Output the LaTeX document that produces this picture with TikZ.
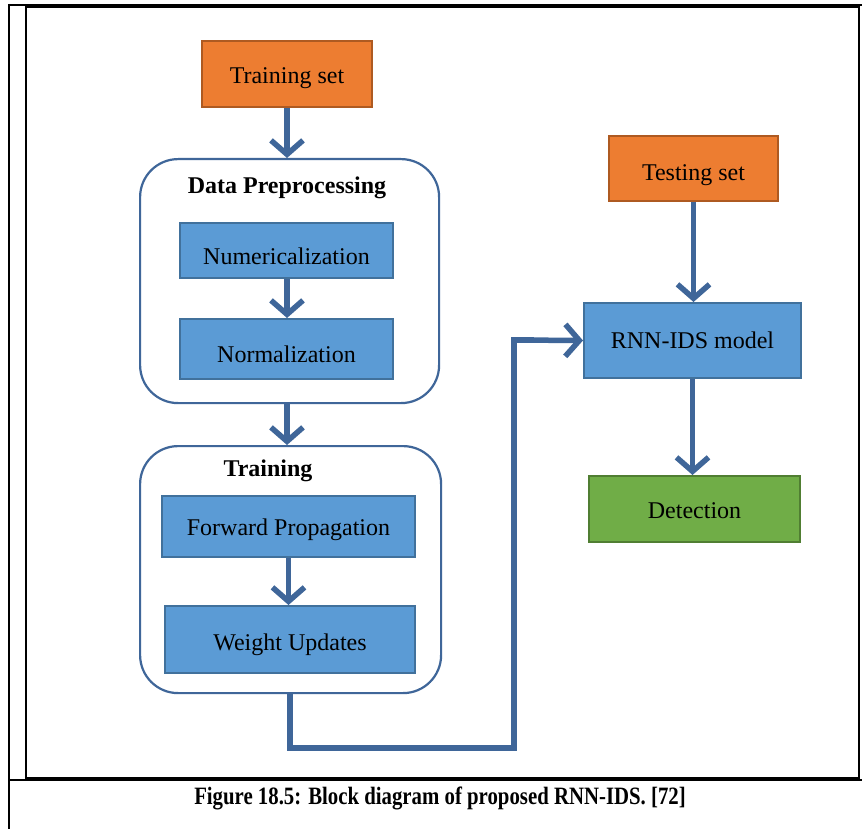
\documentclass[tikz,border=0pt]{standalone}
\usepackage{fontspec}
\setmainfont{Liberation Serif}
\usetikzlibrary{arrows.meta}
\definecolor{orangefill}{HTML}{ED7D31}
\definecolor{orangeline}{HTML}{AE5A21}
\definecolor{bluefill}{HTML}{5B9BD5}
\definecolor{blueline}{HTML}{41719C}
\definecolor{greenfill}{HTML}{70AD47}
\definecolor{greenline}{HTML}{507E32}
\definecolor{flow}{HTML}{3F6699}
\tikzset{
  box/.style={draw, line width=2pt, inner sep=0pt, anchor=north west,
    text height=22pt, text depth=3pt,
    font=\fontsize{24}{28}\selectfont},
  inputbox/.style={box, fill=orangefill, draw=orangeline},
  stagebox/.style={box, fill=bluefill, draw=blueline},
  outputbox/.style={box, fill=greenfill, draw=greenline},
  group/.style={draw=flow, line width=2.2pt, rounded corners=38pt, inner sep=0pt, anchor=north west},
  grouptitle/.style={font=\bfseries\fontsize{24}{28}\selectfont},
  flowarrow/.style={draw=flow, line width=5.5pt,
    -{Straight Barb[length=14pt, width=32pt, line width=5.5pt]}},
  flowline/.style={draw=flow, line width=5.5pt},
  frame/.style={line width=2.2pt, black}
}
\begin{document}
\begin{tikzpicture}[x=1pt, y=-1pt]
\useasboundingbox (0,0) rectangle (862,829);
\fill[white] (0,0) rectangle (862,829);

% page frame lines
\draw[frame] (9,5) -- (862,5);
\draw[frame] (9,4) -- (9,829);
\draw[frame] (26,7) rectangle (859,778);
\draw[frame, line width=2.6pt] (9,780) -- (862,780);

% caption
\node (caption) at (440,798) {\scalebox{1}[1.2]{\bfseries\fontsize{20.8}{24}\selectfont Figure 18.5: Block diagram of proposed RNN-IDS. [72]}};

% left column: training pipeline
\node[inputbox, minimum width=170pt, minimum height=66pt] (train) at (201,40) {Training set};

\node[group, minimum width=299pt, minimum height=244pt] (prep) at (139,158) {};
\node[grouptitle] (preptitle) at (287,188) {Data Preprocessing};
\node[stagebox, text height=32pt, minimum width=213pt, minimum height=55pt] (num) at (179,222) {Numericalization};
\node[stagebox, text height=30pt, minimum width=213pt, minimum height=60pt] (norm) at (179,318) {Normalization};

\node[group, minimum width=301pt, minimum height=247pt] (trn) at (139,445) {};
\node[grouptitle] (trntitle) at (268,471) {Training};
\node[stagebox, text height=20pt, minimum width=253pt, minimum height=61pt] (fwd) at (161,495) {Forward Propagation};
\node[stagebox, text height=24pt, minimum width=250pt, minimum height=67pt] (upd) at (164,605) {Weight Updates};

% right column: testing pipeline
\node[inputbox, text height=28pt, minimum width=169pt, minimum height=65pt] (test) at (608,135) {Testing set};
\node[stagebox, text height=18pt, minimum width=217pt, minimum height=75pt] (model) at (583,302) {RNN-IDS model};
\node[outputbox, minimum width=211pt, minimum height=66pt] (det) at (588,475) {Detection};

% connectors
\draw[flowarrow] (train.south -| preptitle) -- (prep.north -| preptitle);
\draw[flowarrow] (num.south -| preptitle) -- (norm.north -| preptitle);
\draw[flowarrow] (prep.south -| preptitle) -- (trn.north -| preptitle);
\draw[flowarrow] (fwd.south) -- (upd.north -| fwd.south);

\coordinate (c1) at (290,748);
\coordinate (c2) at (514,748);
\coordinate (c3) at (514,340);
\draw[flowline, line join=miter] (trn.south -| c1) -- (c1) -- (c2) -- (c3) -- ++(20,0);
\draw[flowarrow] (c3) -- (model.west);

\draw[flowarrow] (test.south) -- (model.north -| test.south);
\draw[flowarrow] (model.south) -- (det.north -| model.south);
\end{tikzpicture}
\end{document}
